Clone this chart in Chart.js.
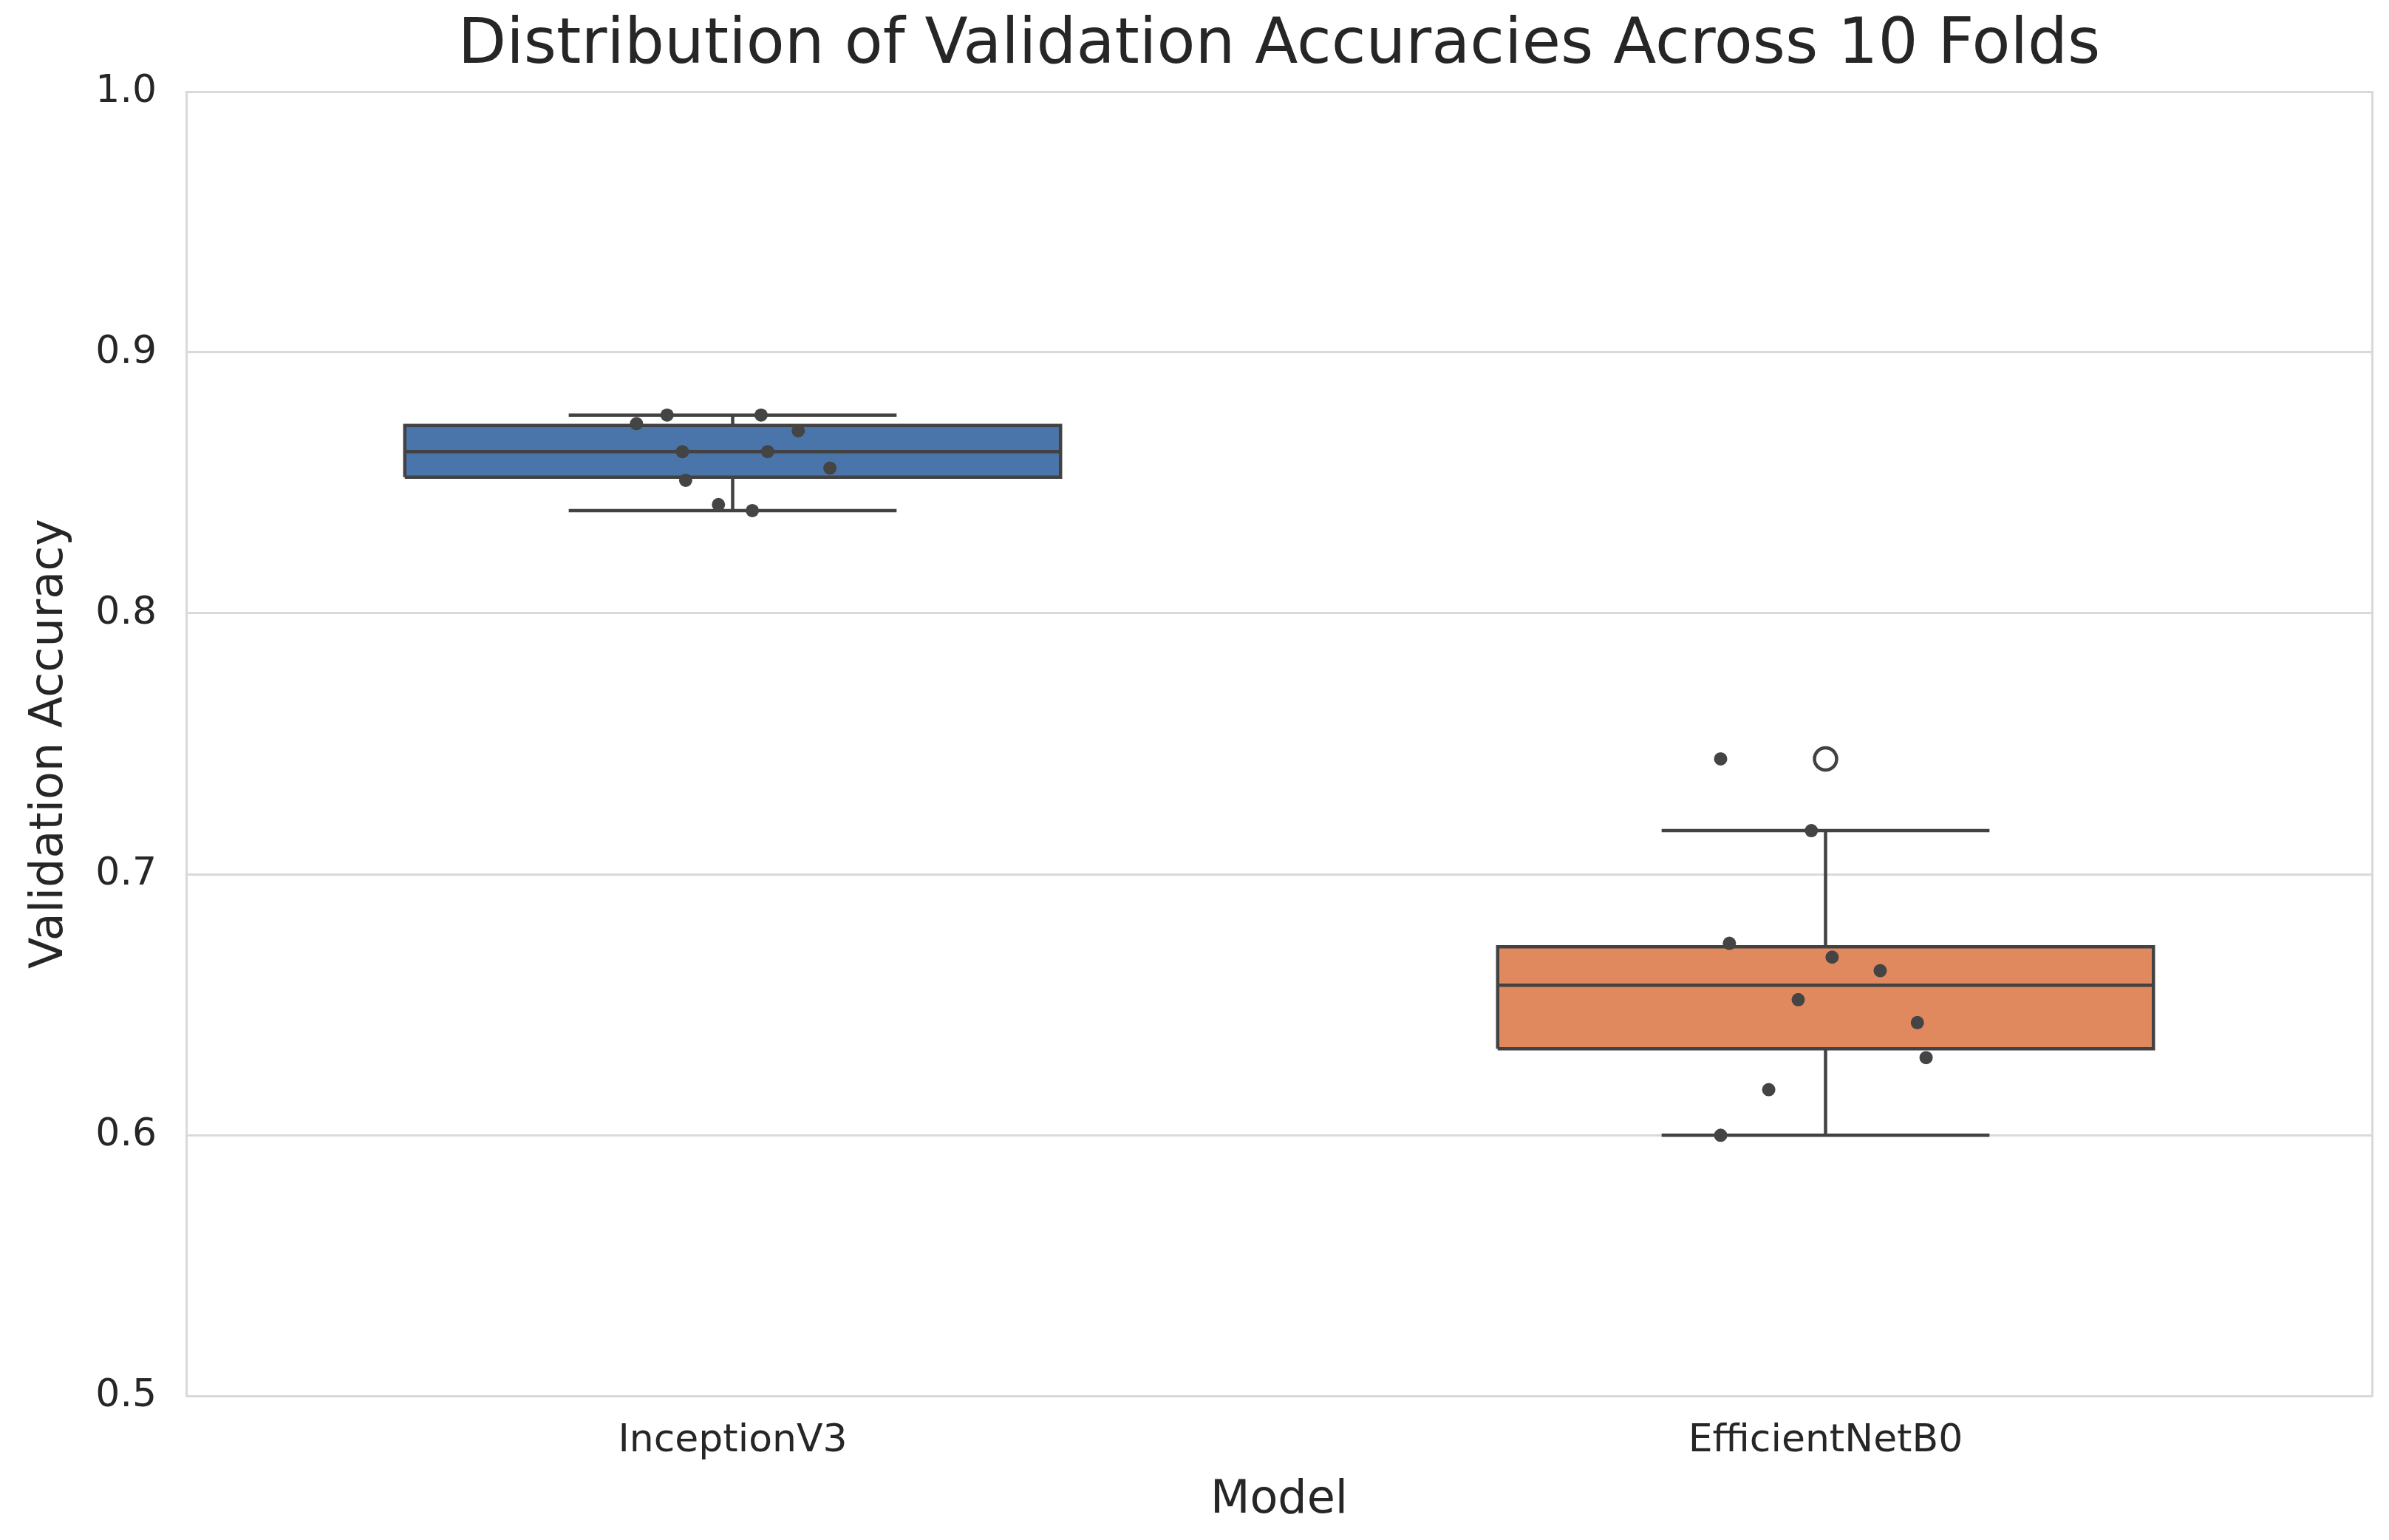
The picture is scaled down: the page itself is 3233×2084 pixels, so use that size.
<!DOCTYPE html>
<html lang="en">
<head>
  <meta charset="UTF-8">
  <title>Validation Accuracies Boxplot</title>
  <script src="https://cdn.jsdelivr.net/npm/chart.js"></script>
  <style>
    html, body { margin: 0; padding: 0; background: #fff; }
    canvas { display: block; }
  </style>
</head>
<body>
  <canvas id="chart" width="3233" height="2084"></canvas>

  <script>
    // fold accuracies, with the strip jitter used for each dot
    const models = ["InceptionV3", "EfficientNetB0"];
    const inceptionAcc = [0.8727, 0.876, 0.876, 0.870, 0.862, 0.862, 0.8557, 0.851, 0.8417, 0.8394];
    const inceptionJitter = [-0.088, -0.060, 0.026, 0.060, -0.046, 0.032, 0.089, -0.043, -0.013, 0.018];
    const effAcc = [0.7442, 0.7167, 0.6735, 0.6682, 0.6630, 0.6519, 0.6431, 0.6297, 0.6174, 0.5999];
    const effJitter = [-0.096, -0.013, -0.088, 0.006, 0.050, -0.025, 0.084, 0.092, -0.052, -0.096];
    const yTicks = [0.5, 0.6, 0.7, 0.8, 0.9, 1.0];

    const boxColors = ["#4a75aa", "#e0895e"];
    const lineColor = "#424242";
    const gridColor = "#d9d9d9";
    const font = "'DejaVu Sans', sans-serif";

    function quantile(arr, q) {
      const s = [...arr].sort((a, b) => a - b);
      const pos = (s.length - 1) * q;
      const lo = Math.floor(pos), hi = Math.ceil(pos);
      return s[lo] + (s[hi] - s[lo]) * (pos - lo);
    }

    function boxStats(arr) {
      const q1 = quantile(arr, 0.25), med = quantile(arr, 0.5), q3 = quantile(arr, 0.75);
      const iqr = q3 - q1;
      const inside = arr.filter(v => v >= q1 - 1.5 * iqr && v <= q3 + 1.5 * iqr);
      return {
        q1, med, q3,
        lo: Math.min(...inside),
        hi: Math.max(...inside),
        outliers: arr.filter(v => v < q1 - 1.5 * iqr || v > q3 + 1.5 * iqr)
      };
    }

    const halfBox = 0.3, halfCap = 0.15;
    const datasets = [];

    [[inceptionAcc, inceptionJitter], [effAcc, effJitter]].forEach(([acc, jit], i) => {
      const st = boxStats(acc);
      const seg = (pts, w) => ({
        type: "line", data: pts, borderColor: lineColor, borderWidth: w || 4.5,
        pointRadius: 0, fill: false, order: 1, tension: 0
      });

      // strip dots
      datasets.push({
        type: "scatter",
        data: acc.map((v, k) => ({ x: i + jit[k], y: v })),
        backgroundColor: "#444444", borderWidth: 0, pointRadius: 9, order: 0
      });
      // outliers
      datasets.push({
        type: "scatter",
        data: st.outliers.map(v => ({ x: i, y: v })),
        backgroundColor: "#ffffff", borderColor: lineColor, borderWidth: 4.5, pointRadius: 15, order: 0
      });
      // box body
      datasets.push({
        type: "line",
        data: [{ x: i - halfBox, y: st.q3 }, { x: i + halfBox, y: st.q3 }],
        fill: { value: st.q1 }, backgroundColor: boxColors[i],
        borderWidth: 0, pointRadius: 0, order: 2
      });
      // box outline, median, whiskers, caps
      datasets.push(seg([
        { x: i - halfBox, y: st.q1 }, { x: i + halfBox, y: st.q1 },
        { x: i + halfBox, y: st.q3 }, { x: i - halfBox, y: st.q3 },
        { x: i - halfBox, y: st.q1 }
      ]));
      datasets.push(seg([{ x: i - halfBox, y: st.med }, { x: i + halfBox, y: st.med }]));
      datasets.push(seg([{ x: i, y: st.q3 }, { x: i, y: st.hi }]));
      datasets.push(seg([{ x: i, y: st.q1 }, { x: i, y: st.lo }]));
      datasets.push(seg([{ x: i - halfCap, y: st.hi }, { x: i + halfCap, y: st.hi }]));
      datasets.push(seg([{ x: i - halfCap, y: st.lo }, { x: i + halfCap, y: st.lo }]));
    });

    new Chart(document.getElementById("chart"), {
      type: "scatter",
      data: { datasets },
      options: {
        responsive: false,
        devicePixelRatio: 1,
        animation: false,
        layout: { padding: { top: 0, right: 23, bottom: 0, left: 0 } },
        plugins: {
          legend: { display: false },
          tooltip: { enabled: false },
          title: {
            display: true,
            fullSize: false,
            text: "Distribution of Validation Accuracies Across 10 Folds",
            color: "#262626",
            font: { family: font, size: 85, weight: "normal" },
            padding: { top: 12, bottom: 10 }
          }
        },
        scales: {
          x: {
            type: "linear",
            min: -0.5, max: 1.5,
            afterBuildTicks: s => { s.ticks = models.map((m, k) => ({ value: k })); },
            afterFit: s => { s.height = 195; },
            grid: { display: false, drawTicks: false },
            border: { display: true, color: gridColor, width: 3 },
            ticks: {
              callback: v => models[v],
              color: "#262626",
              padding: 30,
              maxRotation: 0,
              font: { family: font, size: 52 }
            },
            title: {
              display: true, text: "Model", color: "#262626",
              font: { family: font, size: 62 },
              padding: { top: 0, bottom: 16 }
            }
          },
          y: {
            min: 0.5, max: 1.0,
            afterBuildTicks: s => { s.ticks = yTicks.map(v => ({ value: v })); },
            afterFit: s => { s.width = 252; },
            grid: { color: gridColor, lineWidth: 3, drawTicks: false },
            border: { display: true, color: gridColor, width: 3 },
            ticks: {
              callback: v => v.toFixed(1),
              color: "#262626",
              padding: 40,
              font: { family: font, size: 52 }
            },
            title: {
              display: true, text: "Validation Accuracy", color: "#262626",
              font: { family: font, size: 62 },
              padding: { top: 31, bottom: 0 }
            }
          },
          y2: {
            position: "right",
            min: 0.5, max: 1.0,
            afterFit: s => { s.width = 0; },
            grid: { display: false, drawTicks: false },
            border: { display: true, color: gridColor, width: 3 },
            ticks: { display: false }
          }
        }
      }
    });
  </script>
</body>
</html>
